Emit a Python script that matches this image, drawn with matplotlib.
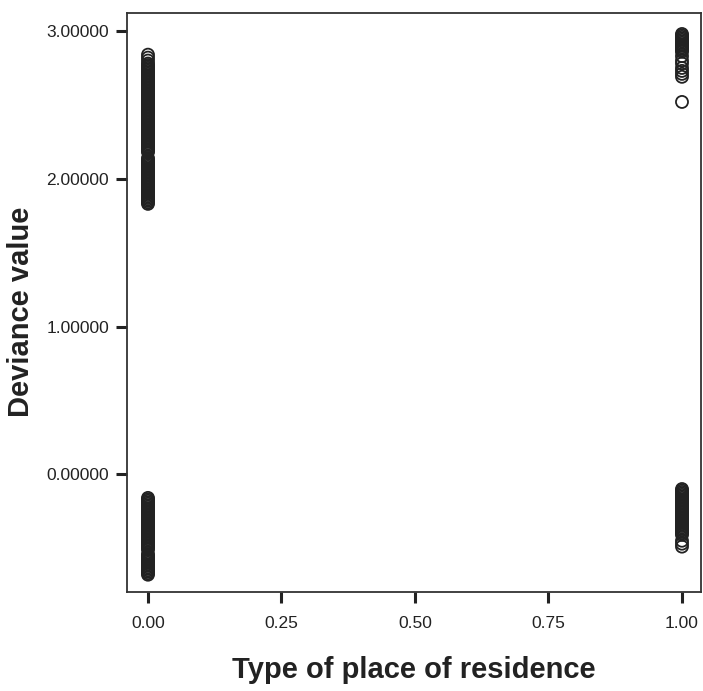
import matplotlib
matplotlib.use("Agg")
import matplotlib.pyplot as plt

# Type of place of residence (0 / 1) and deviance values
urban_upper = [1.83, 1.84, 1.85, 1.86, 1.87, 1.88, 1.89, 1.90, 1.91, 1.92, 1.93, 1.94,
               1.95, 1.96, 1.97, 1.98, 1.99, 2.00, 2.01, 2.02, 2.03, 2.04, 2.05, 2.06,
               2.07, 2.08, 2.09, 2.10, 2.11, 2.12, 2.13, 2.14, 2.18, 2.19, 2.20, 2.21,
               2.22, 2.23, 2.24, 2.25, 2.26, 2.27, 2.28, 2.29, 2.30, 2.31, 2.32, 2.33,
               2.34, 2.35, 2.36, 2.37, 2.38, 2.39, 2.40, 2.41, 2.42, 2.43, 2.44, 2.45,
               2.46, 2.47, 2.48, 2.49, 2.50, 2.51, 2.52, 2.53, 2.54, 2.55, 2.56, 2.57,
               2.58, 2.59, 2.60, 2.61, 2.62, 2.63, 2.64, 2.65, 2.66, 2.67, 2.68, 2.69,
               2.70, 2.71, 2.72, 2.73, 2.74, 2.75, 2.76, 2.77, 2.78, 2.80, 2.82, 2.84]
urban_lower = [-0.16, -0.17, -0.18, -0.19, -0.20, -0.21, -0.22, -0.23, -0.24, -0.25,
               -0.26, -0.27, -0.28, -0.29, -0.30, -0.31, -0.32, -0.33, -0.34, -0.35,
               -0.36, -0.37, -0.38, -0.39, -0.40, -0.41, -0.42, -0.43, -0.44, -0.45,
               -0.46, -0.47, -0.48, -0.49, -0.50, -0.51, -0.54, -0.55, -0.56, -0.57,
               -0.58, -0.59, -0.60, -0.61, -0.62, -0.63, -0.64, -0.65, -0.66, -0.67,
               -0.68]
rural_upper = [2.52, 2.69, 2.71, 2.73, 2.75, 2.78, 2.80, 2.83, 2.86, 2.87, 2.88, 2.89,
               2.90, 2.91, 2.92, 2.93, 2.94, 2.95, 2.96, 2.97, 2.98]
rural_lower = [-0.10, -0.11, -0.12, -0.13, -0.14, -0.15, -0.16, -0.17, -0.18, -0.19,
               -0.20, -0.21, -0.22, -0.23, -0.24, -0.25, -0.26, -0.27, -0.28, -0.29,
               -0.30, -0.31, -0.32, -0.33, -0.34, -0.35, -0.36, -0.37, -0.38, -0.39,
               -0.40, -0.41, -0.45, -0.47, -0.49]

x_ticks = [0.0, 0.25, 0.5, 0.75, 1.0]
x_ticklabels = ["0.00", "0.25", "0.50", "0.75", "1.00"]
y_ticks = [0.0, 1.0, 2.0, 3.0]
y_ticklabels = ["0.00000", "1.00000", "2.00000", "3.00000"]

plt.rcParams['font.family'] = ['Liberation Sans', 'DejaVu Sans']

fig = plt.figure(figsize=(7.03, 6.91), dpi=100)
ax = fig.add_axes([127/703, 1 - 592/691, (701 - 127)/703, (592 - 13)/691])

for xv, ys in [(0.0, urban_upper), (0.0, urban_lower), (1.0, rural_upper), (1.0, rural_lower)]:
    ax.scatter([xv] * len(ys), ys, s=75, facecolors='none', edgecolors='#222222',
               linewidths=1.3, zorder=3)

ax.set_xlim(-0.0393, 1.0356)
ax.set_ylim(-0.797, 3.122)
ax.set_xticks(x_ticks)
ax.set_xticklabels(x_ticklabels)
ax.set_yticks(y_ticks)
ax.set_yticklabels(y_ticklabels)
ax.tick_params(direction='out', length=8, width=2.2, labelsize=12.5, colors='#222222')
ax.tick_params(axis='x', pad=9)
ax.tick_params(axis='y', pad=5)

for s in ax.spines.values():
    s.set_linewidth(1.3)
    s.set_color('#333333')

ax.set_xlabel("Type of place of residence", fontsize=21, fontweight='bold', labelpad=18,
              color='#222222')
ax.set_ylabel("Deviance value", fontsize=21, fontweight='bold', color='#222222')
ax.yaxis.set_label_coords((21 - 127) / 574, (592 - 312) / 579)
ax.yaxis.label.set_verticalalignment('center')

fig.savefig("out.png", dpi=100)
